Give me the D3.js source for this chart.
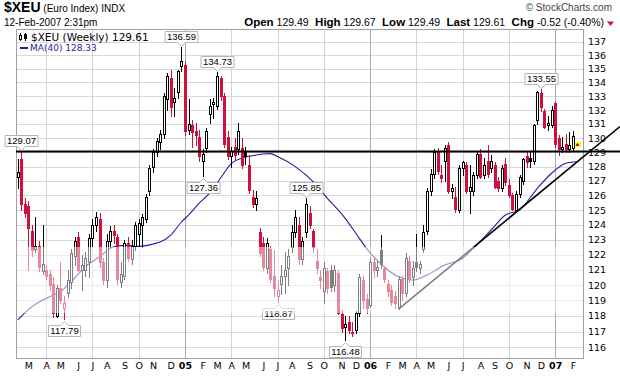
<!DOCTYPE html>
<html>
<head>
<meta charset="utf-8">
<script src="https://cdn.jsdelivr.net/npm/d3@7/dist/d3.min.js"></script>
<style>
  body { margin: 0; background: #fff; }
  svg { display: block; }
</style>
</head>
<body>
<div id="chart"></div>
<script>
'use strict';

// Weekly bars of $XEU, first bar is the week of Monday 9-Feb-2004
var firstWeek = '2004-02-09';

var opens = [
  127.3,128.5,125.4,125.3,123.6,122.4,122.6,120.9,121.0,120.7,
  120.1,118.0,119.8,118.5,119.5,120.2,121.9,123.2,121.0,121.0,
  121.5,123.1,124.0,124.4,121.5,120.3,122.9,123.6,123.2,120.2,
  120.6,122.8,121.7,122.6,123.4,124.0,124.4,126.3,128.0,129.0,
  129.7,130.3,132.8,134.3,132.6,133.3,135.2,135.3,130.6,130.9,
  130.5,130.1,128.4,129.3,131.7,132.4,132.3,134.3,133.0,130.1,
  128.7,129.4,129.2,129.3,129.1,128.1,125.9,125.4,123.5,122.8,
  121.1,122.4,120.6,119.3,120.1,120.6,121.1,122.5,123.5,124.0,
  121.7,123.5,124.8,123.6,121.6,120.5,119.6,120.9,121.0,120.0,
  120.8,118.1,117.3,117.6,116.9,117.1,118.2,120.3,119.1,118.7,
  121.5,121.0,122.3,121.1,120.1,119.7,119.3,118.6,120.4,119.5,
  121.6,120.5,121.5,121.1,122.4,123.6,126.3,127.5,129.0,127.4,
  128.4,129.5,126.3,125.9,125.0,127.9,128.1,126.3,126.3,127.4,
  128.9,127.4,128.4,127.9,128.1,127.0,126.5,128.2,126.7,126.0,
  125.0,126.1,127.0,128.7,128.6,128.4,131.3,133.2,131.9,130.9,
  130.9,132.5,130.0,129.2,129.6,129.2,129.3,129.49
];
var highs = [
  128.5,129.07,125.8,125.6,124.0,124.5,122.9,124.0,121.3,121.0,
  120.5,120.0,121.5,119.3,121.0,122.4,123.2,123.5,122.0,122.2,
  123.4,124.4,124.9,124.8,121.8,123.4,123.9,124.0,123.4,121.5,
  123.0,123.2,123.0,124.2,124.4,124.7,126.1,128.1,129.2,130.0,
  130.6,133.2,134.7,134.9,133.6,134.9,136.59,135.6,132.8,131.3,
  131.1,130.6,129.2,130.7,132.8,132.9,134.73,134.5,133.2,130.5,
  129.4,130.0,131.1,130.0,129.4,128.8,126.4,126.3,123.8,123.2,
  123.1,122.6,122.3,120.3,121.3,122.2,122.4,124.0,125.0,124.5,
  123.2,125.85,125.3,123.7,122.4,121.0,121.5,121.1,121.3,121.3,
  121.0,118.4,118.0,118.0,117.6,118.3,120.7,120.6,119.4,121.8,
  121.8,121.6,123.3,121.2,120.3,120.0,119.6,120.6,120.6,122.1,
  121.9,121.6,123.4,121.6,124.0,126.5,127.8,129.2,129.3,128.1,
  129.5,129.7,126.8,126.6,128.1,128.4,128.3,128.1,127.6,129.0,
  129.2,128.6,129.5,128.8,128.3,127.3,128.1,128.6,127.1,126.2,
  126.3,127.4,128.6,129.1,129.0,131.0,133.4,133.55,132.1,131.6,
  132.3,132.6,130.2,130.1,130.3,130.4,130.5,129.67
];
var lows = [
  126.5,125.0,124.5,121.0,121.9,122.2,120.9,120.7,120.4,119.7,
  117.9,117.9,118.8,117.79,119.2,119.8,121.3,120.9,119.7,120.6,
  120.5,122.6,123.6,121.2,120.1,119.9,122.5,122.8,120.1,119.9,
  120.4,121.6,121.4,122.3,122.6,122.5,124.2,126.0,127.6,128.7,
  129.2,130.0,132.0,131.6,131.6,132.9,134.8,130.2,130.3,129.4,
  129.5,128.4,127.36,129.0,131.1,131.4,132.1,132.7,129.4,128.5,
  128.0,128.5,128.9,127.9,128.2,126.2,125.2,125.0,121.9,121.0,
  120.8,120.2,119.3,118.87,119.4,119.5,120.0,122.2,123.2,121.4,
  121.4,123.2,123.8,122.2,120.8,119.8,118.8,119.5,119.6,119.6,
  118.1,117.0,116.48,116.9,116.7,116.9,118.0,118.5,118.2,118.6,
  120.5,120.6,121.1,120.2,119.3,118.7,118.5,118.44,119.0,119.3,
  120.2,120.0,120.9,120.8,122.2,123.4,126.0,127.2,127.5,126.9,
  127.0,126.2,125.8,124.9,124.9,127.4,126.2,124.8,126.0,127.2,
  127.2,127.2,127.3,127.6,126.5,126.3,126.3,126.7,125.9,125.0,
  124.85,125.9,126.8,128.0,128.0,128.2,131.0,131.9,130.7,130.6,
  130.8,129.4,128.8,129.0,129.0,129.0,129.1,129.49
];
var closes = [
  127.6,125.4,124.8,123.8,122.3,122.6,121.2,121.4,120.6,120.0,
  118.2,119.8,119.0,118.8,120.3,122.1,122.9,121.0,121.3,121.8,
  123.1,124.0,124.5,121.5,120.3,122.9,123.6,123.3,120.4,120.7,
  122.8,121.8,122.6,124.0,124.1,124.5,125.9,127.9,129.0,129.8,
  130.3,133.0,134.5,132.2,132.9,134.8,135.6,130.5,131.0,130.4,
  130.2,128.7,128.9,130.5,132.3,132.6,134.5,133.0,129.6,128.7,
  129.1,128.8,130.5,128.1,128.7,126.4,125.4,125.8,122.1,121.2,
  122.8,120.4,119.8,119.7,120.6,121.0,121.9,123.5,124.5,121.7,
  122.9,125.4,124.0,122.5,121.1,120.3,121.1,119.8,119.9,121.0,
  118.2,117.2,117.5,117.1,117.0,118.2,120.5,119.0,118.5,121.5,
  121.0,121.2,121.4,120.4,119.6,118.9,118.8,120.4,119.5,121.8,
  120.4,121.1,121.2,121.4,123.5,126.3,127.5,129.0,127.7,127.2,
  129.3,126.3,126.5,125.1,127.9,128.3,126.3,126.6,127.4,128.9,
  127.3,128.1,127.5,128.4,126.6,126.5,127.9,126.9,126.0,125.1,
  126.1,127.3,128.5,128.3,128.4,130.9,133.3,132.2,130.8,131.1,
  132.0,129.6,129.2,129.4,129.2,129.5,130.13,129.61
];

// MA(40) line (bar index, value)
var maBars   = [0, 4, 9, 12, 16, 19, 23, 27, 31, 34, 38, 40, 43, 46, 48, 51, 54, 57, 60, 64, 67, 69, 71, 73,
                78, 83, 87, 92, 95, 98, 102, 107, 111, 115, 120, 125, 128, 133, 137, 141, 146, 150, 154, 157];
var maValues = [117.74, 118.6, 119.24, 119.56, 120.46, 121.2, 121.86, 122.53, 122.62, 122.55, 122.71, 122.84,
                123.31, 124.19, 124.66, 125.48, 126.17, 127.2, 128.2, 128.66, 128.8, 128.87, 128.9, 128.7,
                127.99, 126.95, 125.8, 124.44, 123.43, 122.42, 121.4, 120.54, 120.33, 120.66, 121.31, 121.76,
                122.42, 123.65, 124.66, 125.0, 126.49, 127.53, 128.22, 128.33];

// Swing high / low callouts
var labelBars   = [1, 13, 46, 52, 56, 73, 81, 92, 147];
var labelValues = [129.07, 117.79, 136.59, 127.36, 134.73, 118.87, 125.85, 116.48, 133.55];
var labelSides  = ['high', 'low', 'high', 'low', 'high', 'low', 'high', 'low', 'high'];

// Hand drawn lines
var levelValue  = 129.07;
var trendBars   = [107, 140];
var trendValues = [118.44, 124.85];

var yTicks = [116, 117, 118, 119, 120, 121, 122, 123, 124, 125, 126, 127,
              128, 129, 130, 131, 132, 133, 134, 135, 136, 137];
var monthLetters = ['J', 'F', 'M', 'A', 'M', 'J', 'J', 'A', 'S', 'O', 'N', 'D'];

// Chart dimensions
var width = 620, height = 376;
var plot = {left: 16, right: 583, top: 29, bottom: 358};
var red = '#d0103c';
var sans = "'Liberation Sans', Arial, sans-serif";
var verdana = "'DejaVu Sans', Verdana, sans-serif";

// Scales & Ranges
var x = d3.scaleLinear().domain([0, closes.length - 1]).range([17.7, 576.5]);
var y = d3.scaleLog().domain([116, 137]).range([347.3, 41.7]);
var px = function(v) { return Math.round(v) + 0.5; };

var start = d3.timeParse('%Y-%m-%d')(firstWeek);
var weeks = closes.map(function(c, i) {
  return {
    i: i, date: d3.timeDay.offset(start, 7 * i),
    open: opens[i], high: highs[i], low: lows[i], close: c,
    prev: i ? closes[i - 1] : opens[i]
  };
});
// first bar of each month
var monthStarts = weeks.filter(function(d, i) {
  return i > 0 && d.date.getMonth() !== weeks[i - 1].date.getMonth();
});

var svg = d3.select('#chart').append('svg')
  .attr('width', width).attr('height', height);

svg.append('rect').attr('width', width).attr('height', height).attr('fill', '#fff');

// horizontal grid
svg.append('g').attr('class', 'grid')
  .selectAll('line').data(yTicks).enter().append('line')
  .attr('x1', plot.left).attr('x2', plot.right)
  .attr('y1', function(d) { return px(y(d)); })
  .attr('y2', function(d) { return px(y(d)); })
  .attr('stroke', '#d9d9d9');

// quarter grid, year lines darker
svg.append('g').attr('class', 'grid')
  .selectAll('line').data(monthStarts.filter(function(d) { return d.date.getMonth() % 3 === 0; }))
  .enter().append('line')
  .attr('x1', function(d) { return px(x(d.i)); })
  .attr('x2', function(d) { return px(x(d.i)); })
  .attr('y1', plot.top).attr('y2', plot.bottom)
  .attr('stroke', function(d) { return d.date.getMonth() === 0 ? '#ababab' : '#d4d4d4'; });

svg.append('rect')
  .attr('x', plot.left + 0.5).attr('y', plot.top + 0.5)
  .attr('width', plot.right - plot.left).attr('height', plot.bottom - plot.top)
  .attr('fill', 'none').attr('stroke', '#a0a0a0');

// yAxis labels
var yAxis = d3.axisRight(y).tickValues(yTicks).tickSize(0).tickPadding(5).tickFormat(d3.format('d'));
var gy = svg.append('g').attr('class', 'y axis')
  .attr('transform', 'translate(' + plot.right + ',0)').call(yAxis);
gy.select('.domain').remove();
gy.selectAll('text').attr('font-family', verdana).attr('font-size', 9.5).attr('fill', '#000');

// xAxis labels
var xAxis = d3.axisBottom(x).tickValues(monthStarts.map(function(d) { return d.i; })).tickSize(0).tickPadding(4)
  .tickFormat(function(i) {
    var d = weeks[i].date;
    return d.getMonth() === 0 ? d3.timeFormat('%y')(d) : monthLetters[d.getMonth()];
  });
var gx = svg.append('g').attr('class', 'x axis')
  .attr('transform', 'translate(0,' + plot.bottom + ')').call(xAxis);
gx.select('.domain').remove();
gx.selectAll('text').attr('font-family', verdana).attr('font-size', 9.5).attr('fill', '#000')
  .attr('font-weight', function(i) { return weeks[i].date.getMonth() === 0 ? 'bold' : 'normal'; });

// MA(40)
var maLine = d3.line()
  .x(function(d) { return x(d[0]); })
  .y(function(d) { return y(d[1]); })
  .curve(d3.curveMonotoneX);
svg.append('path').datum(d3.zip(maBars, maValues))
  .attr('d', maLine).attr('fill', 'none')
  .attr('stroke', '#1f1f99').attr('stroke-width', 1.1);

// last price marker
var last = weeks[weeks.length - 1];
svg.append('rect')
  .attr('x', Math.round(x(last.i)) - 3).attr('y', Math.round(y(last.close)) - 2)
  .attr('width', 7).attr('height', 5).attr('fill', '#ffff00');

// candles
var bars = svg.append('g').attr('class', 'bars')
  .selectAll('g').data(weeks).enter().append('g')
  .attr('class', 'bar');

var colour = function(d) { return d.close < d.prev ? red : '#000'; };

bars.append('line')
  .attr('x1', function(d) { return Math.round(x(d.i)) + 0.5; })
  .attr('x2', function(d) { return Math.round(x(d.i)) + 0.5; })
  .attr('y1', function(d) { return Math.round(y(d.high)); })
  .attr('y2', function(d) { return Math.round(y(d.low)) + 1; })
  .attr('stroke', colour);

bars.append('rect')
  .each(function(d) {
    var cx = Math.round(x(d.i));
    var top = Math.round(y(Math.max(d.open, d.close)));
    var bot = Math.round(y(Math.min(d.open, d.close)));
    var el = d3.select(this);
    if (d.close < d.open) {
      el.attr('x', cx - 1).attr('y', top).attr('width', 3).attr('height', Math.max(1, bot - top + 1))
        .attr('fill', colour(d));
    } else {
      el.attr('x', cx - 0.5).attr('y', top + 0.5).attr('width', 2).attr('height', Math.max(1, bot - top))
        .attr('fill', '#fff').attr('stroke', colour(d));
    }
  });

// support line and rising trend line
var yl = Math.round(y(levelValue)) + 0.5;
svg.append('line')
  .attr('x1', plot.left).attr('x2', width)
  .attr('y1', yl).attr('y2', yl)
  .attr('stroke', '#000').attr('stroke-width', 2);

var p1 = [x(trendBars[0]), y(trendValues[0])];
var p2 = [x(trendBars[1]), y(trendValues[1])];
var slope = (p2[1] - p1[1]) / (p2[0] - p1[0]);
svg.append('line')
  .attr('x1', p1[0]).attr('y1', p1[1])
  .attr('x2', width).attr('y2', p1[1] + slope * (width - p1[0]))
  .attr('stroke', '#000').attr('stroke-width', 1.6);

// high / low callouts
var callouts = svg.append('g').attr('class', 'callouts');
labelBars.forEach(function(b, k) {
  var cx = Math.round(x(b)) + 0.5;
  var yv = y(labelValues[k]);
  var g = callouts.append('g');
  var path = g.append('path');
  var txt = g.append('text').text(labelValues[k].toFixed(2))
    .attr('font-family', sans).attr('font-size', 9.5).attr('text-anchor', 'middle')
    .attr('x', cx);
  var w = Math.round(txt.node().getComputedTextLength()) + 4;
  var x0 = cx - w / 2, x1 = cx + w / 2, y0, y1;
  if (labelSides[k] === 'high') {
    y1 = Math.round(yv) - 4.5; y0 = y1 - 11;
    path.attr('d', 'M' + x0 + ',' + y0 + 'H' + x1 + 'V' + y1 + 'H' + (cx + 4) +
      'L' + cx + ',' + (y1 + 4) + 'L' + (cx - 4) + ',' + y1 + 'H' + x0 + 'Z');
  } else {
    y0 = Math.round(yv) + 6.5; y1 = y0 + 11;
    path.attr('d', 'M' + x0 + ',' + y0 + 'H' + (cx - 4) + 'L' + cx + ',' + (y0 - 4) +
      'L' + (cx + 4) + ',' + y0 + 'H' + x1 + 'V' + y1 + 'H' + x0 + 'Z');
  }
  path.attr('fill', '#fff').attr('stroke', '#b4b4b4');
  txt.attr('y', y0 + 8.5);
});

// faded band of the original image
svg.append('rect')
  .attr('x', plot.left + 1).attr('y', 247)
  .attr('width', plot.right - plot.left - 1).attr('height', 66)
  .attr('fill', '#fff').attr('opacity', 0.5);

// legend
var legend = svg.append('g').attr('class', 'legend');
legend.append('line').attr('x1', 20.5).attr('x2', 20.5).attr('y1', 33).attr('y2', 41).attr('stroke', '#000');
legend.append('rect').attr('x', 19.5).attr('y', 35.5).attr('width', 2).attr('height', 4).attr('fill', '#fff').attr('stroke', '#000');
legend.append('line').attr('x1', 25.5).attr('x2', 25.5).attr('y1', 33).attr('y2', 41).attr('stroke', '#000');
legend.append('rect').attr('x', 24).attr('y', 34).attr('width', 3).attr('height', 5).attr('fill', '#000');
legend.append('text').text('$XEU (Weekly) 129.61')
  .attr('x', 31).attr('y', 41).attr('font-family', verdana).attr('font-size', 10.5).attr('fill', '#000');
legend.append('rect').attr('x', 20).attr('y', 47).attr('width', 8).attr('height', 2).attr('fill', '#1f1f99');
legend.append('text').text('MA(40) 128.33')
  .attr('x', 30).attr('y', 51).attr('font-family', verdana).attr('font-size', 9).attr('fill', '#1f1f99');

// header
var head = svg.append('g').attr('class', 'header').attr('font-family', sans);
var t1 = head.append('text').attr('x', 4).attr('y', 12);
t1.append('tspan').text('$XEU').attr('font-weight', 'bold').attr('font-size', 14);
t1.append('tspan').text(' (Euro Index) INDX').attr('font-size', 10);
head.append('text').text('12-Feb-2007 2:31pm').attr('x', 4).attr('y', 26).attr('font-size', 10);
head.append('text').text('\u00a9 StockCharts.com').attr('x', 612).attr('y', 11)
  .attr('text-anchor', 'end').attr('font-size', 10).attr('fill', '#444');

var quote = [['Open', '129.49'], ['High', '129.67'], ['Low', '129.49'], ['Last', '129.61'], ['Chg', '-0.52 (-0.40%)']];
var t2 = head.append('text').attr('x', 604).attr('y', 26).attr('text-anchor', 'end').attr('font-size', 10.5)
  .attr('xml:space', 'preserve');
quote.forEach(function(q, k) {
  t2.append('tspan').text((k ? '  ' : '') + q[0]).attr('font-weight', 'bold').attr('font-size', 11.5);
  t2.append('tspan').text(' ' + q[1]);
});
head.append('path').attr('d', 'M607,21.5H614L610.5,26Z').attr('fill', red);
</script>
</body>
</html>
